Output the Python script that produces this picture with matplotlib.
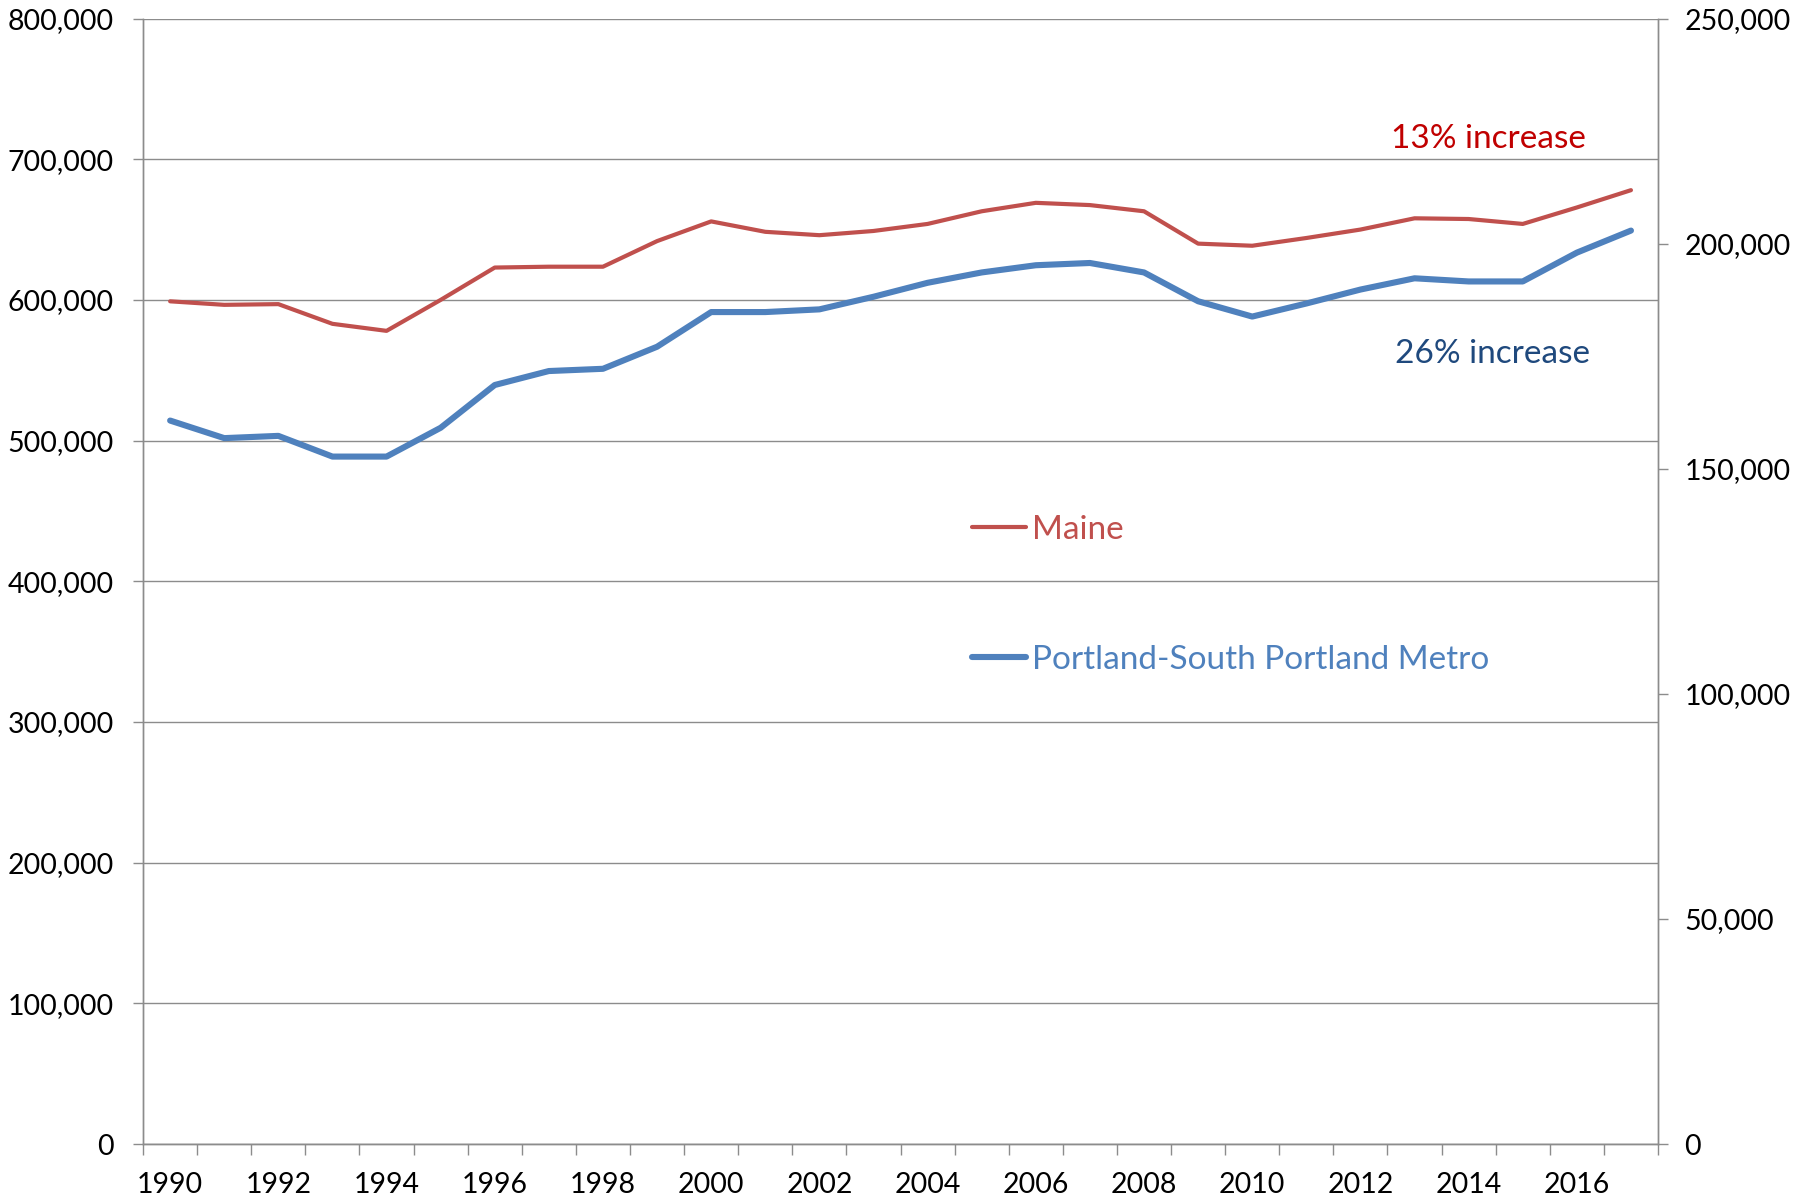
import matplotlib
matplotlib.use("Agg")
import matplotlib.pyplot as plt
import numpy as np
from matplotlib.ticker import FuncFormatter

plt.rcParams['font.family'] = ['Lato', 'DejaVu Sans']

years = list(range(1990, 2018))
maine = [599000, 596500, 597000, 583000, 578000, 600000, 623000, 623600, 623600, 641800,
         655800, 648400, 646000, 649000, 654000, 663000, 669000, 667400, 663000, 640000,
         638500, 644000, 650000, 658000, 657500, 654000, 665700, 678000]
portland = [160700, 156800, 157300, 152700, 152700, 159100, 168600, 171700, 172200, 177100,
            184800, 184800, 185400, 188200, 191300, 193600, 195200, 195700, 193600, 187200,
            183800, 186700, 189800, 192300, 191600, 191600, 198000, 202900]
left_ticks = [0, 100000, 200000, 300000, 400000, 500000, 600000, 700000, 800000]
right_ticks = [0, 50000, 100000, 150000, 200000, 250000]

red = '#C0504D'
blue = '#4F81BD'
grid_c = '#8C8C8C'

fig = plt.figure(figsize=(18.18, 12.03), dpi=100)
ax = fig.add_axes([0.0787, 0.049, 0.8333, 0.9356])
ax2 = ax.twinx()

x = np.arange(len(years))
l1, = ax.plot(x, maine, color=red, lw=3.0, solid_capstyle='round', zorder=3)
l2, = ax2.plot(x, portland, color=blue, lw=4.4, solid_capstyle='round', zorder=3)

ax.set_xlim(-0.5, len(years) - 0.5)
ax.set_ylim(0, 800000)
ax2.set_ylim(0, 250000)
ax.set_yticks(left_ticks)
ax2.set_yticks(right_ticks)
fmt = FuncFormatter(lambda v, p: f"{int(v):,}")
ax.yaxis.set_major_formatter(fmt)
ax2.yaxis.set_major_formatter(fmt)

ax.yaxis.grid(True, color=grid_c, lw=1.0)
ax.set_axisbelow(True)

# x ticks at category boundaries, labels at centers
ax.set_xticks(np.arange(-0.5, len(years), 1.0))
ax.set_xticklabels([])
ax.set_xticks(x[::2], minor=True)
ax.set_xticklabels([str(y) for y in years[::2]], minor=True)
ax.tick_params(axis='x', which='major', length=8, width=1, color=grid_c, direction='out')
ax.tick_params(axis='x', which='minor', length=0, pad=20, labelsize=20.5)
ax.tick_params(axis='y', length=7, width=1, color=grid_c, labelsize=20.5, pad=14)
ax2.tick_params(axis='y', length=7, width=1, color=grid_c, labelsize=20.5, pad=12)

for a in (ax, ax2):
    for s in a.spines.values():
        s.set_color(grid_c)
        s.set_linewidth(1.0)
    a.spines['top'].set_visible(False)

leg = ax.legend([l1, l2], ['Maine', 'Portland-South Portland Metro'],
                loc='center left', bbox_to_anchor=(0.547, 0.488), frameon=False,
                fontsize=24, handlelength=1.64, handletextpad=0.17, labelspacing=3.0,
                borderpad=0, borderaxespad=0)
for t, c in zip(leg.get_texts(), [red, blue]):
    t.set_color(c)

ax.text(0.888, 0.893, '13% increase', transform=ax.transAxes, color='#C00000',
        fontsize=24, ha='center', va='center')
ax.text(0.891, 0.702, '26% increase', transform=ax.transAxes, color='#1F497D',
        fontsize=24, ha='center', va='center')

fig.savefig('out.png', dpi=100)
